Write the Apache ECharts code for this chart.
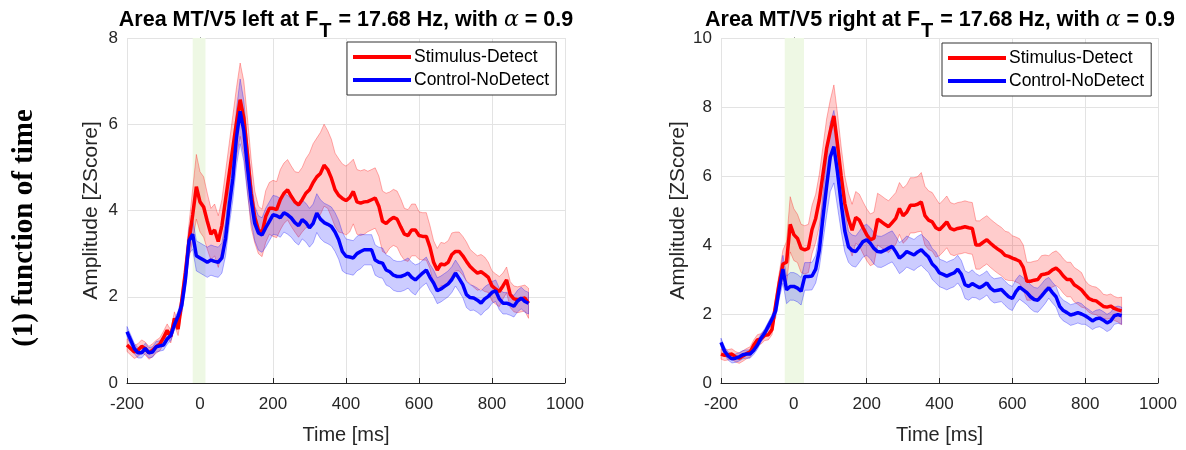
<!DOCTYPE html>
<html>
<head>
<meta charset="utf-8">
<script src="https://cdn.jsdelivr.net/npm/echarts@6/dist/echarts.min.js"></script>
<style>
  html, body { margin: 0; padding: 0; background: #fff; }
  #main { width: 1186px; height: 450px; }
</style>
</head>
<body>
<div id="main"></div>
<script>
// sample times (ms)
const times = [
  -200, -190, -180, -170, -160, -150, -140, -130, -120, -110,
  -100, -90, -80, -70, -60, -50, -40, -30, -20, -10,
  0, 10, 20, 30, 40, 50, 60, 70, 80, 90,
  100, 110, 120, 130, 140, 150, 160, 170, 180, 190,
  200, 210, 220, 230, 240, 250, 260, 270, 280, 290,
  300, 310, 320, 330, 340, 350, 360, 370, 380, 390,
  400, 410, 420, 430, 440, 450, 460, 470, 480, 490,
  500, 510, 520, 530, 540, 550, 560, 570, 580, 590,
  600, 610, 620, 630, 640, 650, 660, 670, 680, 690,
  700, 710, 720, 730, 740, 750, 760, 770, 780, 790,
  800, 810, 820, 830, 840, 850, 860, 870, 880, 890,
  900
]

const seriesNames = ['Stimulus-Detect', 'Control-NoDetect']
const titles = ['Area MT/V5 left', 'Area MT/V5 right']
const yMax = [8, 10]
const stimWindow = [[-20, 15], [-25, 28]]

// left hemisphere
const leftStim = [
  0.88, 0.80, 0.72, 0.76, 0.85, 0.80, 0.70, 0.76, 0.84, 0.90,
  1.05, 1.22, 1.08, 1.50, 1.25, 1.90, 2.55, 3.30, 3.90, 4.55,
  4.20, 4.08, 3.75, 3.45, 3.55, 3.28, 3.65, 4.25, 4.85, 5.45,
  6.05, 6.57, 6.15, 5.30, 4.40, 3.85, 3.55, 3.48, 3.86, 4.05,
  4.05, 4.02, 4.25, 4.40, 4.48, 4.33, 4.20, 4.13, 4.25, 4.40,
  4.48, 4.65, 4.78, 4.86, 5.05, 4.95, 4.75, 4.48, 4.35, 4.28,
  4.23, 4.30, 4.44, 4.20, 4.17, 4.20, 4.21, 4.25, 4.29, 4.10,
  3.75, 3.70, 3.78, 3.84, 3.80, 3.62, 3.45, 3.42, 3.55, 3.55,
  3.42, 3.40, 3.40, 3.15, 2.80, 2.62, 2.76, 2.74, 2.80, 2.98,
  3.05, 3.05, 2.95, 2.82, 2.70, 2.62, 2.55, 2.58, 2.52, 2.45,
  2.25, 2.18, 2.12, 2.25, 2.39, 2.05, 1.95, 1.93, 1.95, 1.97,
  1.85
]
const leftStimErr = [
  0.15, 0.15, 0.15, 0.15, 0.15, 0.15, 0.15, 0.15, 0.15, 0.15,
  0.15, 0.15, 0.15, 0.15, 0.15, 0.25, 0.30, 0.40, 0.60, 0.75,
  0.70, 0.70, 0.65, 0.60, 0.60, 0.60, 0.60, 0.65, 0.70, 0.75,
  0.80, 0.85, 0.85, 0.85, 0.80, 0.60, 0.55, 0.55, 0.60, 0.60,
  0.65, 0.65, 0.70, 0.70, 0.70, 0.70, 0.70, 0.75, 0.75, 0.80,
  0.85, 0.90, 0.90, 0.95, 0.95, 0.90, 0.90, 0.85, 0.85, 0.80,
  0.80, 0.80, 0.75, 0.75, 0.75, 0.75, 0.70, 0.70, 0.70, 0.70,
  0.70, 0.70, 0.65, 0.65, 0.65, 0.65, 0.60, 0.60, 0.60, 0.60,
  0.55, 0.55, 0.55, 0.50, 0.50, 0.50, 0.50, 0.50, 0.50, 0.50,
  0.45, 0.45, 0.45, 0.45, 0.40, 0.40, 0.40, 0.40, 0.40, 0.35,
  0.35, 0.35, 0.35, 0.30, 0.30, 0.30, 0.30, 0.30, 0.30, 0.30,
  0.35
]
const leftCtrl = [
  1.19, 1.00, 0.80, 0.70, 0.70, 0.80, 0.70, 0.72, 0.84, 0.86,
  0.88, 1.02, 1.10, 1.35, 1.55, 1.80, 2.40, 3.30, 3.45, 2.95,
  2.90, 2.85, 2.80, 2.85, 2.82, 2.80, 2.90, 3.35, 4.10, 4.75,
  5.70, 6.30, 5.85, 5.00, 4.25, 3.70, 3.48, 3.43, 3.60, 3.75,
  3.90, 3.88, 3.83, 3.95, 3.90, 3.83, 3.72, 3.65, 3.79, 3.72,
  3.60, 3.70, 3.94, 3.80, 3.72, 3.68, 3.63, 3.50, 3.32, 3.05,
  2.94, 2.92, 2.90, 3.00, 3.05, 3.09, 3.09, 3.09, 2.85, 2.80,
  2.78, 2.62, 2.58, 2.50, 2.47, 2.47, 2.50, 2.55, 2.45, 2.39,
  2.47, 2.55, 2.62, 2.45, 2.32, 2.14, 2.18, 2.24, 2.30, 2.40,
  2.55, 2.42, 2.28, 2.05, 1.98, 1.97, 1.92, 1.85, 1.95, 2.01,
  2.10, 2.14, 1.95, 1.85, 1.85, 1.82, 1.78, 1.90, 1.97, 1.89,
  1.85
]
const leftCtrlErr = [
  0.12, 0.12, 0.12, 0.12, 0.12, 0.12, 0.12, 0.12, 0.12, 0.12,
  0.12, 0.12, 0.12, 0.12, 0.12, 0.20, 0.25, 0.30, 0.35, 0.35,
  0.35, 0.35, 0.35, 0.35, 0.35, 0.35, 0.35, 0.40, 0.45, 0.50,
  0.65, 0.75, 0.70, 0.60, 0.50, 0.40, 0.40, 0.40, 0.45, 0.45,
  0.45, 0.45, 0.45, 0.45, 0.45, 0.45, 0.45, 0.45, 0.45, 0.45,
  0.45, 0.45, 0.45, 0.45, 0.45, 0.45, 0.45, 0.45, 0.45, 0.45,
  0.40, 0.40, 0.40, 0.40, 0.40, 0.35, 0.35, 0.35, 0.35, 0.35,
  0.35, 0.35, 0.35, 0.35, 0.35, 0.35, 0.35, 0.35, 0.35, 0.35,
  0.30, 0.30, 0.30, 0.30, 0.30, 0.30, 0.30, 0.30, 0.30, 0.30,
  0.30, 0.30, 0.30, 0.30, 0.30, 0.28, 0.28, 0.28, 0.28, 0.28,
  0.25, 0.25, 0.25, 0.25, 0.25, 0.25, 0.25, 0.25, 0.25, 0.25,
  0.25
]

// right hemisphere
const rightStim = [
  0.84, 0.80, 0.82, 0.84, 0.76, 0.72, 0.78, 0.85, 0.90, 1.10,
  1.25, 1.28, 1.38, 1.40, 1.55, 2.25, 2.90, 3.45, 3.50, 4.60,
  4.30, 4.19, 3.90, 3.86, 3.90, 4.45, 4.77, 5.30, 6.05, 6.80,
  7.30, 7.74, 6.90, 6.00, 5.20, 4.75, 4.43, 4.80, 4.72, 4.50,
  4.30, 4.15, 4.20, 4.75, 4.68, 4.60, 4.53, 4.65, 4.77, 5.06,
  4.85, 4.95, 5.15, 5.15, 5.18, 5.25, 4.85, 4.72, 4.67, 4.50,
  4.44, 4.55, 4.67, 4.48, 4.44, 4.48, 4.50, 4.53, 4.50, 4.48,
  4.00, 4.00, 4.08, 4.15, 4.05, 3.96, 3.88, 3.81, 3.70, 3.67,
  3.62, 3.58, 3.53, 3.35, 2.95, 2.95, 2.98, 3.00, 3.14, 3.16,
  3.19, 3.28, 3.33, 3.24, 3.10, 3.00, 3.00, 2.85, 2.78, 2.70,
  2.57, 2.45, 2.40, 2.38, 2.30, 2.22, 2.20, 2.23, 2.16, 2.12,
  2.09
]
const rightStimErr = [
  0.15, 0.15, 0.15, 0.15, 0.15, 0.15, 0.15, 0.15, 0.15, 0.15,
  0.15, 0.15, 0.15, 0.15, 0.15, 0.25, 0.30, 0.40, 0.60, 0.80,
  0.75, 0.70, 0.70, 0.70, 0.70, 0.70, 0.70, 0.75, 0.80, 0.85,
  0.90, 0.90, 0.90, 0.85, 0.80, 0.75, 0.75, 0.75, 0.75, 0.75,
  0.75, 0.75, 0.75, 0.75, 0.75, 0.75, 0.75, 0.75, 0.75, 0.75,
  0.80, 0.80, 0.80, 0.80, 0.80, 0.85, 0.85, 0.85, 0.85, 0.85,
  0.75, 0.75, 0.75, 0.75, 0.75, 0.75, 0.75, 0.75, 0.75, 0.75,
  0.70, 0.70, 0.70, 0.70, 0.70, 0.70, 0.70, 0.70, 0.70, 0.70,
  0.65, 0.65, 0.65, 0.65, 0.55, 0.55, 0.55, 0.55, 0.55, 0.55,
  0.50, 0.50, 0.50, 0.50, 0.50, 0.50, 0.50, 0.50, 0.50, 0.50,
  0.40, 0.40, 0.40, 0.40, 0.40, 0.35, 0.35, 0.35, 0.35, 0.35,
  0.40
]
const rightCtrl = [
  1.18, 0.92, 0.78, 0.70, 0.72, 0.76, 0.82, 0.84, 0.84, 0.95,
  1.10, 1.30, 1.45, 1.65, 1.85, 2.09, 2.75, 3.30, 2.70, 2.80,
  2.80, 2.75, 2.66, 3.09, 3.09, 3.10, 3.30, 3.85, 4.80, 5.70,
  6.55, 6.85, 6.10, 5.20, 4.40, 3.95, 3.84, 3.81, 3.95, 4.10,
  4.15, 4.05, 3.90, 3.81, 3.80, 3.85, 3.91, 3.96, 3.80, 3.62,
  3.70, 3.81, 3.76, 3.71, 3.80, 3.86, 3.75, 3.65, 3.45, 3.35,
  3.19, 3.15, 3.10, 3.15, 3.19, 3.30, 3.15, 2.85, 2.80, 2.88,
  2.82, 2.76, 2.82, 2.90, 2.75, 2.67, 2.69, 2.71, 2.60, 2.50,
  2.45, 2.65, 2.78, 2.70, 2.62, 2.50, 2.42, 2.40, 2.52, 2.65,
  2.76, 2.62, 2.50, 2.22, 2.10, 2.04, 1.97, 2.00, 2.04, 2.00,
  1.95, 1.88, 1.80, 1.86, 1.88, 1.82, 1.74, 1.80, 1.95, 1.98,
  1.95
]
const rightCtrlErr = [
  0.12, 0.12, 0.12, 0.12, 0.12, 0.12, 0.12, 0.12, 0.12, 0.12,
  0.12, 0.12, 0.12, 0.12, 0.12, 0.20, 0.30, 0.40, 0.40, 0.40,
  0.40, 0.40, 0.40, 0.40, 0.40, 0.40, 0.40, 0.50, 0.70, 0.85,
  1.00, 1.05, 1.00, 0.80, 0.60, 0.45, 0.45, 0.45, 0.45, 0.45,
  0.45, 0.45, 0.45, 0.45, 0.45, 0.45, 0.45, 0.45, 0.45, 0.45,
  0.45, 0.45, 0.45, 0.45, 0.45, 0.45, 0.45, 0.45, 0.45, 0.45,
  0.40, 0.40, 0.40, 0.40, 0.40, 0.40, 0.40, 0.40, 0.40, 0.40,
  0.35, 0.35, 0.35, 0.35, 0.35, 0.35, 0.35, 0.35, 0.35, 0.35,
  0.35, 0.35, 0.35, 0.35, 0.35, 0.35, 0.35, 0.35, 0.35, 0.35,
  0.30, 0.30, 0.30, 0.30, 0.30, 0.30, 0.30, 0.30, 0.30, 0.30,
  0.25, 0.25, 0.25, 0.25, 0.25, 0.25, 0.25, 0.25, 0.25, 0.25,
  0.25
]

const fontSans = '"Liberation Sans", Arial, Helvetica, sans-serif'
const axisColor = '#262626'

const chart = echarts.init(document.getElementById('main'))

// shaded band drawn as one polygon (upper edge then lower edge back)
function bandSeries (idx, vals, err, rgb, mark) {
  const data = times.map((t, i) => [t, +(vals[i] - err[i]).toFixed(3), +(vals[i] + err[i]).toFixed(3)])
  const s = {
    type: 'custom',
    xAxisIndex: idx,
    yAxisIndex: idx,
    silent: true,
    data: data,
    encode: { x: 0, y: [1, 2] },
    renderItem: (params, api) => {
      if (params.dataIndex !== 0) return null
      const top = data.map(d => api.coord([d[0], d[2]]))
      const bottom = data.map(d => api.coord([d[0], d[1]])).reverse()
      return {
        type: 'polygon',
        shape: { points: top.concat(bottom) },
        style: { fill: 'rgba(' + rgb + ',0.2)', stroke: 'rgba(' + rgb + ',0.3)', lineWidth: 1 }
      }
    }
  }
  if (mark) {
    s.markArea = {
      silent: true,
      itemStyle: { color: '#eef8e4' },
      data: [[{ xAxis: mark[0] }, { xAxis: mark[1] }]]
    }
  }
  return s
}

function meanSeries (idx, name, vals, rgb) {
  return {
    name: name,
    type: 'line',
    xAxisIndex: idx,
    yAxisIndex: idx,
    data: times.map((t, i) => [t, vals[i]]),
    symbol: 'none',
    lineStyle: { width: 3.5, color: 'rgb(' + rgb + ')' },
    itemStyle: { color: 'rgb(' + rgb + ')' }
  }
}

const grids = [
  { left: 127, top: 38, width: 438, height: 345 },
  { left: 721, top: 38, width: 437, height: 348 }
]

const xAxes = grids.map((g, i) => ({
  type: 'value',
  gridIndex: i,
  min: -200,
  max: 1000,
  interval: 200,
  name: 'Time [ms]',
  nameLocation: 'middle',
  nameGap: 42,
  nameTextStyle: { fontFamily: fontSans, fontSize: 20, color: axisColor },
  axisLine: { onZero: false, lineStyle: { color: axisColor, width: 1 } },
  axisTick: { inside: true, length: 5, lineStyle: { color: axisColor } },
  axisLabel: { fontFamily: fontSans, fontSize: 17, color: axisColor, margin: 13, formatter: v => String(v) },
  splitLine: { show: true, lineStyle: { color: '#e3e3e3', width: 1 } }
}))

const yAxes = grids.map((g, i) => ({
  type: 'value',
  gridIndex: i,
  min: 0,
  max: yMax[i],
  interval: 2,
  name: 'Amplitude [ZScore]',
  nameLocation: 'middle',
  nameGap: i === 0 ? 25 : 23,
  nameTextStyle: { fontFamily: fontSans, fontSize: 21, color: axisColor },
  axisLine: { show: true, lineStyle: { color: axisColor, width: 1 } },
  axisTick: { show: true, inside: true, length: 5, lineStyle: { color: axisColor } },
  axisLabel: { fontFamily: fontSans, fontSize: 17, color: axisColor, margin: 9 },
  splitLine: { show: true, lineStyle: { color: '#e3e3e3', width: 1 } }
}))

// MATLAB draw order: red band, red mean, blue band, blue mean
const series = [
  bandSeries(0, leftStim, leftStimErr, '255,0,0', stimWindow[0]),
  meanSeries(0, seriesNames[0], leftStim, '255,0,0'),
  bandSeries(0, leftCtrl, leftCtrlErr, '0,0,255'),
  meanSeries(0, seriesNames[1], leftCtrl, '0,0,255'),
  bandSeries(1, rightStim, rightStimErr, '255,0,0', stimWindow[1]),
  meanSeries(1, seriesNames[0], rightStim, '255,0,0'),
  bandSeries(1, rightCtrl, rightCtrlErr, '0,0,255'),
  meanSeries(1, seriesNames[1], rightCtrl, '0,0,255')
]

function legendAt (left, top) {
  return {
    left: left,
    top: top,
    orient: 'vertical',
    data: seriesNames.map(n => ({ name: n, icon: 'rect' })),
    itemWidth: 58,
    itemHeight: 4,
    itemGap: 5,
    padding: [6, 7, 6, 6],
    backgroundColor: '#fff',
    borderColor: '#333',
    borderWidth: 1,
    borderRadius: 0,
    selectedMode: false,
    textStyle: { fontFamily: fontSans, fontSize: 17.5, color: '#000', padding: [0, 0, 0, -2] }
  }
}

function titleGraphic (cx, text) {
  return {
    type: 'text',
    x: cx,
    y: 20,
    silent: true,
    style: {
      text: '{b|' + text + ' at F}{s|T}{b| = 17.68 Hz, with }{a|α}{b| = 0.9}',
      align: 'center',
      verticalAlign: 'middle',
      rich: {
        b: { fontFamily: fontSans, fontWeight: 'bold', fontSize: 21.5, fill: '#000' },
        s: { fontFamily: fontSans, fontWeight: 'bold', fontSize: 20, fill: '#000', padding: [22, 1, 0, 1] },
        a: { fontFamily: '"DejaVu Serif", "Liberation Serif", serif', fontStyle: 'italic', fontSize: 22, fill: '#000' }
      }
    }
  }
}

const option = {
  animation: false,
  backgroundColor: '#fff',
  grid: grids,
  xAxis: xAxes,
  yAxis: yAxes,
  legend: [legendAt(347, 42), legendAt(942, 43)],
  series: series,
  graphic: [
    titleGraphic(346, titles[0]),
    titleGraphic(940, titles[1]),
    {
      type: 'text',
      x: 25,
      y: 228,
      rotation: Math.PI / 2,
      silent: true,
      style: {
        text: '(1) function of time',
        fontFamily: '"Liberation Serif", "DejaVu Serif", serif',
        fontWeight: 'bold',
        fontSize: 29,
        fill: '#000',
        align: 'center',
        verticalAlign: 'middle'
      }
    }
  ]
}

chart.setOption(option)
</script>
</body>
</html>
